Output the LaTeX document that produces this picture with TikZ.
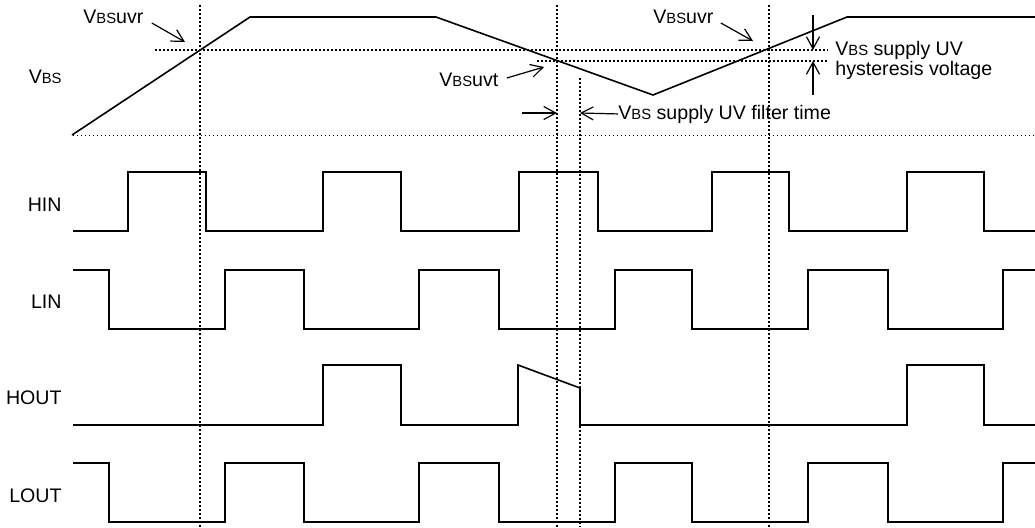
\documentclass[tikz,border=0pt]{standalone}
\usepackage{fontspec}
\setmainfont{Liberation Sans}
\usetikzlibrary{arrows.meta}
\newcommand{\vbs}{V{\fontsize{7.4}{8}\selectfont BS}}

\begin{document}
\begin{tikzpicture}[x=0.5pt,y=-0.5pt,
  >={Straight Barb[length=6pt,width=6.5pt]},
  font=\fontsize{9.8}{10}\selectfont,
  lbl/.style={inner sep=0pt},
  wave/.style={line width=0.8pt,line join=miter},
  guide/.style={line width=1.1pt,dash pattern=on 1.1pt off 0.9pt},
  base/.style={line width=0.5pt,dash pattern=on 0.5pt off 1.5pt},
  pointer/.style={->,line width=0.6pt}]
\useasboundingbox (0,0) rectangle (1035,527);
\node[lbl,anchor=base east] (VBS) at (62,83) {\vbs};
\node[lbl,anchor=base east] (HIN) at (62,211) {HIN};
\node[lbl,anchor=base east] (LIN) at (62,308) {LIN};
\node[lbl,anchor=base east] (HOUT) at (62,404) {HOUT};
\node[lbl,anchor=base east] (LOUT) at (62,502) {LOUT};
\node[lbl,anchor=base west] (R1) at (83,23) {\vbs uvr};
\node[lbl,anchor=base west] (R2) at (653,23) {\vbs uvr};
\node[lbl,anchor=base west] (T) at (439,86) {\vbs uvt};
\node[lbl,anchor=base west] (F) at (618,119) {\vbs\ supply UV filter time};
\node[lbl,anchor=north west,align=left] (H) at (835,41) {\vbs\ supply UV\\hysteresis voltage};
\coordinate (R1tip) at (185,42);
\coordinate (R2tip) at (753,41);
\coordinate (Ttip) at (544,67);
\coordinate (F1) at (522,113);
\coordinate (F2) at (557,113);
\coordinate (F3) at (580,113);
\coordinate (H1) at (813,15);
\coordinate (H2) at (813,50);
\coordinate (H3) at (813,95);
\coordinate (H4) at (813,61);
\draw[guide] (200,5) -- (200,527);
\draw[guide] (557,5) -- (557,527);
\draw[guide] (580,78) -- (580,527);
\draw[guide] (769,5) -- (769,527);
\draw[guide] (155,50) -- (828,50);
\draw[guide] (537,61) -- (828,61);
\draw[base] (73,135) -- (1035,135);
\draw[wave] (72,135) -- (250,17) -- (436,17) -- (653,95) -- (847,17) -- (1035,17);
\draw[wave] (73,231) -| (128,172) -| (206,231) -| (323,172) -| (401,231) -| (519,172) -| (598,231) -| (712,172) -| (789,231) -| (907,172) -| (984,231) -- (1035,231);
\draw[wave] (73,270) -| (109,329) -| (225,270) -| (304,329) -| (419,270) -| (499,329) -| (615,270) -| (692,329) -| (808,270) -| (888,329) -| (1003,270) -- (1035,270);
\draw[wave] (73,425) -| (323,365) -| (401,425) -| (518,365) -- (580,388) -- (580,425) -| (907,365) -| (984,425) -- (1035,425);
\draw[wave] (73,463) -| (109,522) -| (225,463) -| (304,522) -| (419,463) -| (499,522) -| (615,463) -| (692,522) -| (808,463) -| (888,522) -| (1003,463) -- (1035,463);
\draw[pointer] ([xshift=4pt]R1.base east) -- (R1tip);
\draw[pointer] ([xshift=3.5pt]R2.base east) -- (R2tip);
\draw[pointer] ([xshift=4pt,yshift=4pt]T.base east) -- (Ttip);
\draw[pointer] (F1) -- (F2);
\draw[pointer] (F.west) -- (F3);
\draw[pointer] (H1) -- (H2);
\draw[pointer] (H3) -- (H4);
\end{tikzpicture}
\end{document}
